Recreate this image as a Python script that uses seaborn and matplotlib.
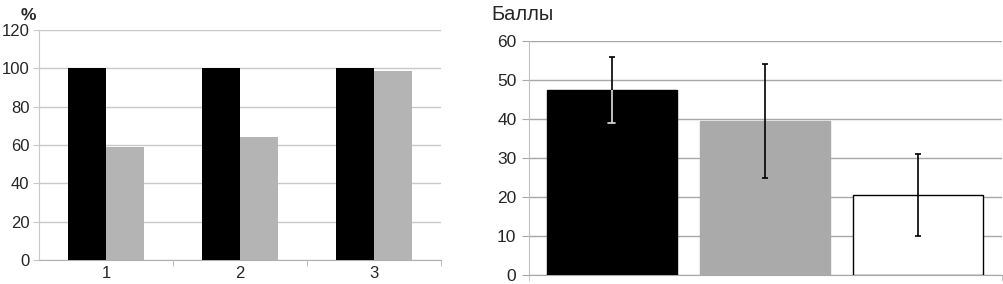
import numpy as np
import pandas as pd
import matplotlib
matplotlib.use("Agg")
import matplotlib.pyplot as plt
import seaborn as sns

# left chart data
groups = ["1", "2", "3"]
series = ["a", "b"]
black_vals = [100, 100, 100]
gray_vals = [59, 64, 98.5]

# right chart data
cats = ["A", "B", "C"]
means = [47.5, 39.6, 20.5]
errs = [8.4, 14.6, 10.4]
bar_colors = ["#000000", "#aaaaaa", "#ffffff"]

sns.set_style("white")
plt.rcParams["font.family"] = ["Liberation Sans", "DejaVu Sans"]

fig = plt.figure(figsize=(10.04, 2.84), dpi=100)
ax1 = fig.add_axes([39/1004, 1-260/284, 402/1004, 230/284])
ax2 = fig.add_axes([529/1004, 1-275/284, 473/1004, 234/284])

# ---- left chart
df1 = pd.DataFrame({"grp": groups*2,
                    "ser": [series[0]]*3 + [series[1]]*3,
                    "val": black_vals + gray_vals})
sns.barplot(data=df1, x="grp", y="val", hue="ser", palette=["#000000", "#b4b4b4"],
            width=0.567, gap=0, saturation=1, legend=False, linewidth=0, ax=ax1, zorder=3)
ax1.set_xlim(-0.5, 2.5)
ax1.set_ylim(0, 120)
ax1.set_yticks(np.arange(0, 121, 20))
ax1.grid(axis="y", color="#c8c8c8", lw=1, zorder=0)
ax1.set_axisbelow(True)
for s in ["top", "right"]:
    ax1.spines[s].set_visible(False)
ax1.spines["left"].set_color("#c8c8c8")
ax1.spines["bottom"].set_color("#b0b0b0")
ax1.set_xticks([0.5, 1.5, 2.5], minor=True)
ax1.tick_params(axis="x", which="major", length=0, labelsize=12, pad=4)
ax1.tick_params(axis="x", which="minor", length=4, color="#b0b0b0", direction="out", bottom=True)
ax1.tick_params(axis="y", length=4, color="#c8c8c8", labelsize=12, pad=3, left=True)
ax1.set_xlabel("")
ax1.set_ylabel("")
fig.text(28/1004, 1-15/284, "%", fontsize=12.5, fontweight="bold", ha="center", va="center")

# ---- right chart
df2 = pd.DataFrame({"cat": cats, "mean": means})
sns.barplot(data=df2, x="cat", y="mean", hue="cat", palette=bar_colors, width=0.85,
            saturation=1, legend=False, edgecolor="#000000", linewidth=1, ax=ax2, zorder=3)
for p, c in zip(ax2.patches, bar_colors):
    if c != "#ffffff":
        p.set_edgecolor(c)
x = np.arange(len(cats))
ax2.errorbar(x, means, yerr=errs, fmt="none", ecolor="#000000", elinewidth=1.2,
             capsize=2.5, capthick=1.2, zorder=4)
# lower part of the first whisker is drawn light over the black bar
ax2.errorbar(x[:1], [means[0] - errs[0]/2], yerr=[errs[0]/2], fmt="none", ecolor="#e0e0e0",
             elinewidth=1.2, capsize=0, zorder=5)
ax2.plot([x[0] - 0.025, x[0] + 0.025], [means[0] - errs[0]]*2, color="#e0e0e0", lw=1.2, zorder=5)
ax2.set_xlim(-0.54, 2.55)
ax2.set_ylim(0, 60)
ax2.set_yticks(np.arange(0, 61, 10))
ax2.grid(axis="y", color="#a8a8a8", lw=1, zorder=0)
ax2.set_axisbelow(True)
for s in ["top", "right"]:
    ax2.spines[s].set_visible(False)
ax2.spines["left"].set_color("#c0c0c0")
ax2.spines["bottom"].set_color("#a8a8a8")
ax2.set_xticks([])
ax2.set_xticks([-0.54, 2.55], minor=True)
ax2.tick_params(axis="x", which="minor", length=4, color="#c0c0c0", bottom=True)
ax2.tick_params(axis="y", length=5, color="#a8a8a8", labelsize=12.5, pad=4, left=True)
ax2.set_xlabel("")
ax2.set_ylabel("")
fig.text(491/1004, 1-14/284, "Баллы", fontsize=14.5, ha="left", va="center")

fig.savefig("out.png", dpi=100)
